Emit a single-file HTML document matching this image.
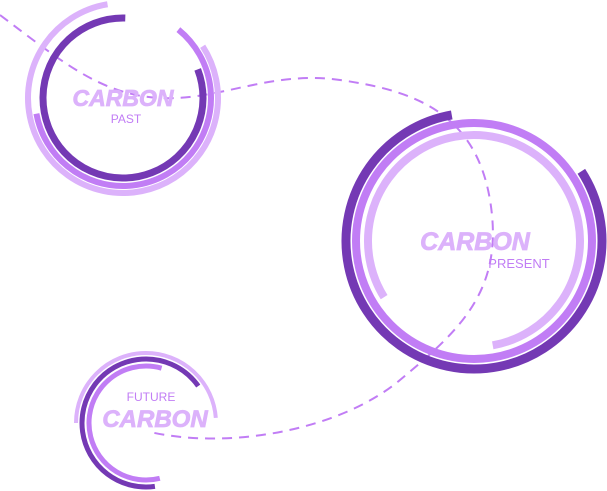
<!DOCTYPE html>
<html><head><style>
html,body{margin:0;padding:0;background:#fff;}
svg{display:block}
text{font-family:"Liberation Sans",sans-serif;}
</style></head><body>
<svg width="607" height="491" viewBox="0 0 607 491">
<g fill="none" stroke-linecap="butt">
<path d="M0,15 C60,60 100,95 160,98 S 270,70 340,80 S 475,110 490,200 S 460,330 400,380 S 230,450 150,432" stroke="#c17df5" stroke-width="2" stroke-dasharray="10 7"/>
<!-- past -->
<circle cx="123" cy="98" r="95" pathLength="360" stroke="#dcb2fb" stroke-width="6" stroke-dasharray="294 1000" transform="rotate(-33 123 98)"/>
<circle cx="123" cy="98" r="88" pathLength="360" stroke="#c17df5" stroke-width="6" stroke-dasharray="221 1000" transform="rotate(-51 123 98)"/>
<circle cx="123" cy="98" r="80" pathLength="360" stroke="#7439b4" stroke-width="7" stroke-dasharray="293 1000" transform="rotate(-21 123 98)"/>
<!-- present -->
<circle cx="474" cy="241" r="128" pathLength="360" stroke="#7439b4" stroke-width="9" stroke-dasharray="293 1000" transform="rotate(-33 474 241)"/>
<circle cx="474" cy="241" r="118" stroke="#c17df5" stroke-width="8"/>
<circle cx="474" cy="241" r="106" pathLength="360" stroke="#dcb2fb" stroke-width="8" stroke-dasharray="292 1000" transform="rotate(148 474 241)"/>
<!-- future -->
<circle cx="146" cy="423" r="70" pathLength="360" stroke="#dcb2fb" stroke-width="4" stroke-dasharray="176 1000" transform="rotate(180 146 423)"/>
<circle cx="146" cy="423" r="64" pathLength="360" stroke="#7439b4" stroke-width="5" stroke-dasharray="243 1000" transform="rotate(82 146 423)"/>
<circle cx="146" cy="423" r="57" pathLength="360" stroke="#c17df5" stroke-width="5" stroke-dasharray="210 1000" transform="rotate(76 146 423)"/>
</g>
<text x="123" y="106" font-size="23" font-weight="bold" font-style="italic" fill="#dcb2fb" stroke="#dcb2fb" stroke-width="0.8" text-anchor="middle">CARBON</text>
<text x="126" y="123" font-size="12" fill="#c17df5" text-anchor="middle">PAST</text>
<text x="475" y="250" font-size="25" font-weight="bold" font-style="italic" fill="#dcb2fb" stroke="#dcb2fb" stroke-width="0.8" text-anchor="middle">CARBON</text>
<text x="519" y="268" font-size="13" fill="#c17df5" text-anchor="middle">PRESENT</text>
<text x="151" y="401" font-size="12" fill="#c17df5" text-anchor="middle">FUTURE</text>
<text x="155" y="427" font-size="24" font-weight="bold" font-style="italic" fill="#dcb2fb" stroke="#dcb2fb" stroke-width="0.8" text-anchor="middle">CARBON</text>
</svg>
</body></html>
